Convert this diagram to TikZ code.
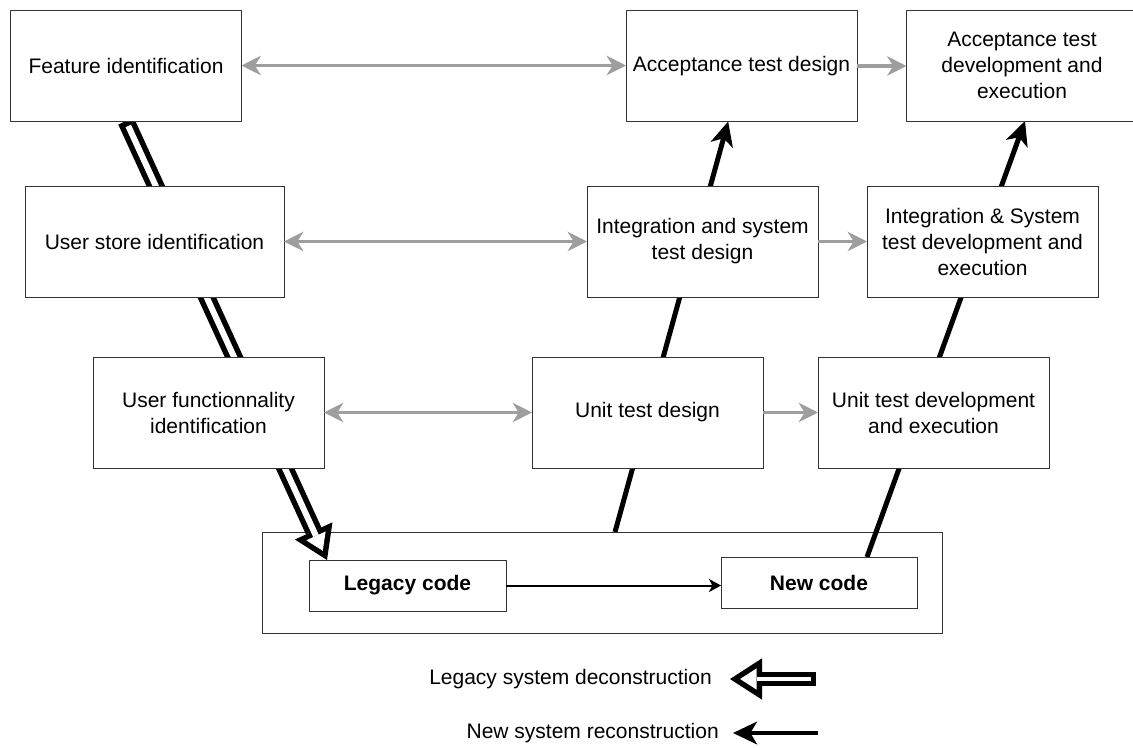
\documentclass[tikz,border=0pt]{standalone}
\usepackage{fontspec}
\setmainfont{Liberation Sans}
\usepackage{tikz}
\usetikzlibrary{arrows.meta, positioning, backgrounds}
\definecolor{BoxLine}{HTML}{333333}
\definecolor{LinkGray}{HTML}{9E9E9E}

\begin{document}
\begin{tikzpicture}[x=0.75pt, y=-0.75pt,
  stage/.style={draw=BoxLine, line width=0.75pt, fill=white, align=center,
    minimum width=173.25pt, minimum height=83.25pt, inner sep=0pt, outer sep=0pt,
    font=\fontsize{15.75}{19.5}\selectfont},
  codebox/.style={stage, minimum width=147.75pt, minimum height=38.25pt,
    font=\fontsize{15.75}{19.5}\selectfont\bfseries},
  grayhead/.tip={Stealth[length=14.5pt, width=14.5pt, inset=4.5pt]},
  link/.style={draw=LinkGray, line width=2.9pt, -{grayhead}},
  bilink/.style={link, {grayhead}-{grayhead}},
  build/.style={line width=3.75pt, -{Stealth[length=18pt, width=17pt, inset=5pt]}},
  hollowout/.style={line width=12.75pt,
    -{Triangle[length=24pt, width=31pt, line width=0pt]}},
  hollowin/.style={white, line width=4.5pt, shorten <=4.1pt, shorten >=7.6pt,
    -{Triangle[length=12.3pt, width=15.9pt, line width=0pt]}}
]
\useasboundingbox (0,0) rectangle (1133,747);

\node[stage] (feat) at (126,65.5) {Feature identification};
\node[stage] (acc) at (741.5,66) {Acceptance test design};
\node[stage] (accdev) at (1022,65.5) {Acceptance test\\development and\\execution};
\node[stage, minimum width=194.25pt] (store) at (154.5,241.5) {User store identification};
\node[stage] (intd) at (702.5,241.5) {Integration and system\\test design};
\node[stage] (intdev) at (982.5,241.5) {Integration \& System\\test development and\\execution};
\node[stage] (func) at (208.5,412.5) {User functionnality\\identification};
\node[stage] (unitd) at (647.5,412.5) {Unit test design};
\node[stage] (unitdev) at (933.5,412.5) {Unit test development\\and execution};
\node[codebox] (legacy) at (407.5,585.5) {Legacy code};
\node[codebox, minimum width=147pt] (new) at (819,582.5) {New code};

\begin{scope}[on background layer]
  \node[draw=BoxLine, line width=0.75pt, minimum width=510pt, minimum height=75.75pt,
        inner sep=0pt, outer sep=0pt] (cont) at (602,582.5) {};
  \draw[build] ([xshift=9.75pt]cont.north) -- ([xshift=-10pt]acc.south);
  \draw[build] ([xshift=36pt]new.north) -- ([xshift=2.25pt]accdev.south);
  \draw[hollowout] (feat.south) -- ([xshift=13.5pt]legacy.north west);
  \draw[hollowin] (feat.south) -- ([xshift=13.5pt]legacy.north west);
\end{scope}

\foreach \a/\b in {feat/acc, store/intd, func/unitd}
  \draw[bilink] (\a.east) -- (\a.east -| \b.west);
\foreach \a/\b in {acc/accdev, intd/intdev, unitd/unitdev}
  \draw[link] (\a.east) -- (\a.east -| \b.west);
\draw[line width=1.5pt, -{Stealth[length=9pt, width=9.75pt, inset=2.5pt]}]
  (legacy.east) -- (legacy.east -| new.west);

\node[anchor=east, inner sep=0pt, font=\fontsize{15.75}{19.5}\selectfont]
  (oldkey) at (712,679) {Legacy system deconstruction};
\node[anchor=east, inner sep=0pt, font=\fontsize{15.75}{19.5}\selectfont]
  (newkey) at (719,733) {New system reconstruction};
\coordinate (oldtail) at (816,679);
\coordinate (newtail) at (818,733);
\draw[hollowout, line width=11pt] (oldtail) -- ([xshift=13.5pt]oldkey.east);
\draw[hollowin, line width=3.5pt, shorten <=3.75pt] (oldtail) -- ([xshift=13.5pt]oldkey.east);
\draw[build, line width=3pt] (newtail) -- ([xshift=10.5pt]newkey.east);
\end{tikzpicture}
\end{document}
